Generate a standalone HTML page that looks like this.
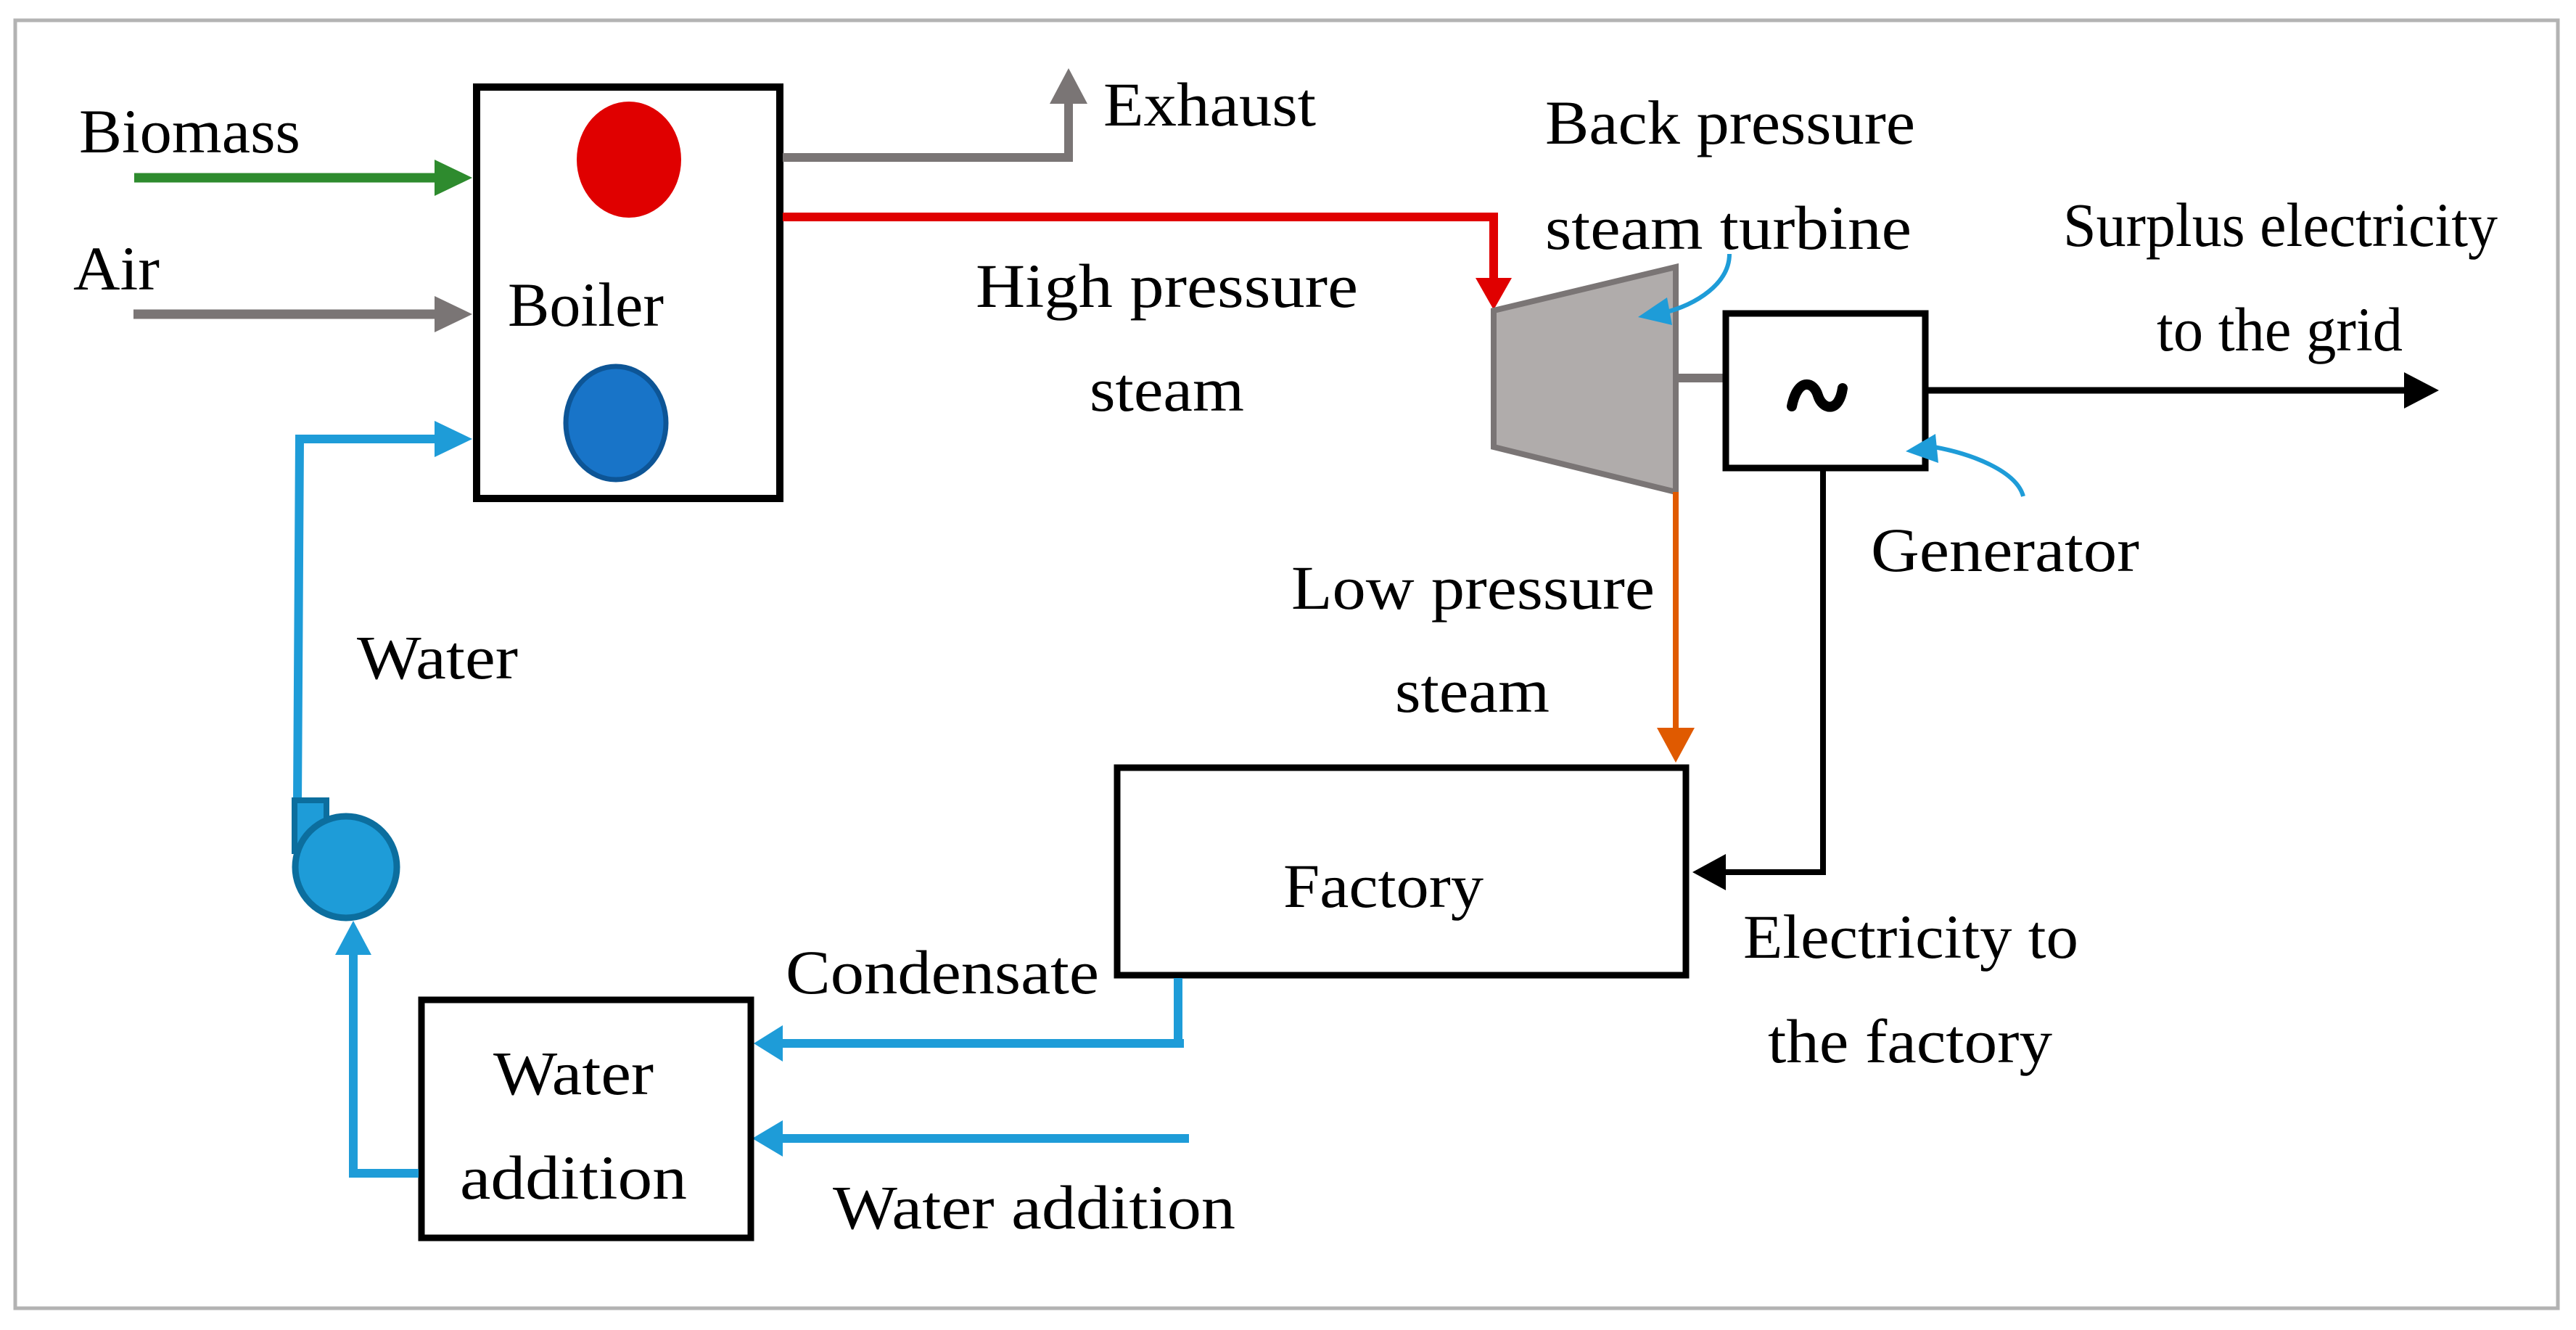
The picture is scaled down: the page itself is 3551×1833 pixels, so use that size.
<!DOCTYPE html>
<html><head><meta charset="utf-8"><style>html,body{margin:0;padding:0;background:#fff}svg{display:block}text{font-family:"Liberation Serif",serif;font-size:86px;fill:#000}</style></head><body>
<svg width="3551" height="1833" viewBox="0 0 3551 1833" xmlns="http://www.w3.org/2000/svg">
<rect x="21" y="28" width="3505" height="1775" fill="#fff" stroke="#b3b3b3" stroke-width="5"/>
<rect x="657" y="120" width="418" height="567" fill="#fff" stroke="#000" stroke-width="10"/>
<ellipse cx="867" cy="220" rx="72" ry="80" fill="#e00000"/>
<ellipse cx="849" cy="583" rx="69" ry="78" fill="#1874c8" stroke="#0d5596" stroke-width="7"/>
<line x1="185" y1="245" x2="605" y2="245" stroke="#2e8b2e" stroke-width="13"/>
<polygon points="599,220 651,245 599,270" fill="#2e8b2e"/>
<line x1="184" y1="433" x2="605" y2="433" stroke="#7a7575" stroke-width="13"/>
<polygon points="599,408 651,433 599,458" fill="#7a7575"/>
<polyline points="410,1106 413,605 605,605" fill="none" stroke="#1e9cd8" stroke-width="12"/>
<polygon points="599,580 651,605 599,630" fill="#1e9cd8"/>
<polyline points="1079,217 1473,217 1473,140" fill="none" stroke="#7a7575" stroke-width="12"/>
<polygon points="1447,143 1473,94 1499,143" fill="#7a7575"/>
<polyline points="1079,299 2059,299 2059,390" fill="none" stroke="#e00000" stroke-width="12"/>
<polygon points="2034,383 2059,427 2084,383" fill="#e00000"/>
<polygon points="2059,428 2310,368 2310,678 2059,616" fill="#b0acab" stroke="#7a7575" stroke-width="8"/>
<line x1="2310" y1="521" x2="2378" y2="521" stroke="#7a7575" stroke-width="12"/>
<rect x="2379" y="432" width="275" height="213" fill="#fff" stroke="#000" stroke-width="9"/>
<path d="M2470,560 C2478,520 2500,525 2506,545 C2512,565 2535,570 2540,535" fill="none" stroke="#000" stroke-width="14" stroke-linecap="round"/>
<line x1="2658" y1="538" x2="3320" y2="538" stroke="#000" stroke-width="9"/>
<polygon points="3314,513 3362,538 3314,563" fill="#000"/>
<path d="M2384,350 C2384,390 2340,420 2290,432" fill="none" stroke="#1e9cd8" stroke-width="6"/>
<polygon points="2258,437 2298,410 2305,448" fill="#1e9cd8"/>
<path d="M2789,684 C2780,650 2720,625 2660,615" fill="none" stroke="#1e9cd8" stroke-width="6"/>
<polygon points="2627,622 2668,598 2672,638" fill="#1e9cd8"/>
<polyline points="2513,649 2513,1202 2375,1202" fill="none" stroke="#000" stroke-width="8"/>
<polygon points="2379,1177 2333,1202 2379,1227" fill="#000"/>
<line x1="2310" y1="678" x2="2310" y2="1010" stroke="#e05a00" stroke-width="8"/>
<polygon points="2284,1003 2310,1051 2336,1003" fill="#e05a00"/>
<rect x="1540" y="1058" width="784" height="286" fill="#fff" stroke="#000" stroke-width="9"/>
<polyline points="1624,1348 1624,1438 1075,1438" fill="none" stroke="#1e9cd8" stroke-width="12"/>
<line x1="1620" y1="1438" x2="1632" y2="1438" stroke="#1e9cd8" stroke-width="12"/>
<polygon points="1079,1413 1039,1438 1079,1463" fill="#1e9cd8"/>
<line x1="1639" y1="1569" x2="1075" y2="1569" stroke="#1e9cd8" stroke-width="12"/>
<polygon points="1079,1544 1037,1569 1079,1594" fill="#1e9cd8"/>
<rect x="581" y="1378" width="454" height="328" fill="#fff" stroke="#000" stroke-width="9"/>
<polyline points="577,1617 487,1617 487,1310" fill="none" stroke="#1e9cd8" stroke-width="12"/>
<polygon points="462,1316 487,1269 512,1316" fill="#1e9cd8"/>
<rect x="406" y="1103" width="44" height="70" fill="#1e9cd8" stroke="#0c6e9e" stroke-width="8"/>
<circle cx="477" cy="1195" r="70" fill="#1e9cd8" stroke="#0c6e9e" stroke-width="9"/>
<text x="109" y="210" textLength="305" lengthAdjust="spacingAndGlyphs">Biomass</text>
<text x="101" y="399" textLength="119" lengthAdjust="spacingAndGlyphs">Air</text>
<text x="700" y="449" textLength="215" lengthAdjust="spacingAndGlyphs">Boiler</text>
<text x="1521" y="173" textLength="293" lengthAdjust="spacingAndGlyphs">Exhaust</text>
<text x="2130" y="198" textLength="510" lengthAdjust="spacingAndGlyphs">Back pressure</text>
<text x="2130" y="343" textLength="505" lengthAdjust="spacingAndGlyphs">steam turbine</text>
<text x="1345" y="423" textLength="527" lengthAdjust="spacingAndGlyphs">High pressure</text>
<text x="1502" y="566" textLength="213" lengthAdjust="spacingAndGlyphs">steam</text>
<text x="2844" y="339" textLength="599" lengthAdjust="spacingAndGlyphs">Surplus electricity</text>
<text x="2973" y="483" textLength="339" lengthAdjust="spacingAndGlyphs">to the grid</text>
<text x="2579" y="787" textLength="370" lengthAdjust="spacingAndGlyphs">Generator</text>
<text x="1780" y="839" textLength="501" lengthAdjust="spacingAndGlyphs">Low pressure</text>
<text x="1923" y="981" textLength="213" lengthAdjust="spacingAndGlyphs">steam</text>
<text x="492" y="935" textLength="222" lengthAdjust="spacingAndGlyphs">Water</text>
<text x="1769" y="1250" textLength="276" lengthAdjust="spacingAndGlyphs">Factory</text>
<text x="2403" y="1320" textLength="462" lengthAdjust="spacingAndGlyphs">Electricity to</text>
<text x="2437" y="1464" textLength="392" lengthAdjust="spacingAndGlyphs">the factory</text>
<text x="1083" y="1369" textLength="432" lengthAdjust="spacingAndGlyphs">Condensate</text>
<text x="680" y="1508" textLength="221" lengthAdjust="spacingAndGlyphs">Water</text>
<text x="634" y="1652" textLength="313" lengthAdjust="spacingAndGlyphs">addition</text>
<text x="1148" y="1693" textLength="555" lengthAdjust="spacingAndGlyphs">Water addition</text>
</svg>
</body></html>
